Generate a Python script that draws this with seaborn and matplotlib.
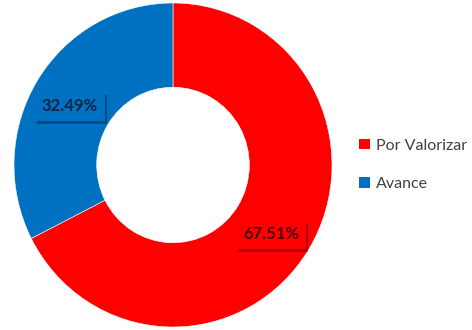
import matplotlib
matplotlib.use("Agg")
import matplotlib.pyplot as plt
import matplotlib.patheffects as pe
from matplotlib.patches import Patch
import seaborn as sns

categories = ["Por Valorizar", "Avance"]
values = [67.51, 32.49]
labels = ["67.51%", "32.49%"]
colors = ["#FF0000", "#0070C0"]

sns.set_style("white")
plt.rcParams['font.family'] = ['Lato', 'DejaVu Sans']

fig = plt.figure(figsize=(4.72, 3.30), dpi=100)
Rx, Ry = 159, 162
cx, cy = 173, 165
ax = fig.add_axes([(cx - Rx) / 472, (330 - cy - Ry) / 330, 2 * Rx / 472, 2 * Ry / 330])
wedges, _ = ax.pie(values, colors=colors, startangle=90, counterclock=False,
                   radius=1, wedgeprops=dict(width=0.52, edgecolor="white", linewidth=0.4))
ax.set_xlim(-1, 1)
ax.set_ylim(-1, 1)
ax.set_aspect("auto")
ax.axis("off")

label_pos = [((271 - cx) / Rx, (cy - 234) / Ry), ((70 - cx) / Rx, (cy - 106) / Ry)]
text_colors = ["#4d0000", "#14254a"]
for (x, y), lab, col, tc in zip(label_pos, labels, colors, text_colors):
    t = ax.text(x, y, lab, ha="center", va="center", fontsize=12, fontweight="bold",
                color=tc,
                bbox=dict(boxstyle="square,pad=0.4", facecolor=col, edgecolor="none"))
    t.get_bbox_patch().set_path_effects([pe.SimplePatchShadow(offset=(1.5, -2.5), alpha=0.45), pe.Normal()])

handles = [Patch(facecolor=c, edgecolor="none") for c in colors]
fig.legend(handles, categories, loc="center left", bbox_to_anchor=(345 / 472, 1 - 165 / 330),
           frameon=False, fontsize=11.5, handlelength=0.65, handleheight=0.65,
           handletextpad=0.4, labelspacing=1.55, labelcolor="#404040")

fig.savefig("out.png", dpi=100, facecolor="white")
